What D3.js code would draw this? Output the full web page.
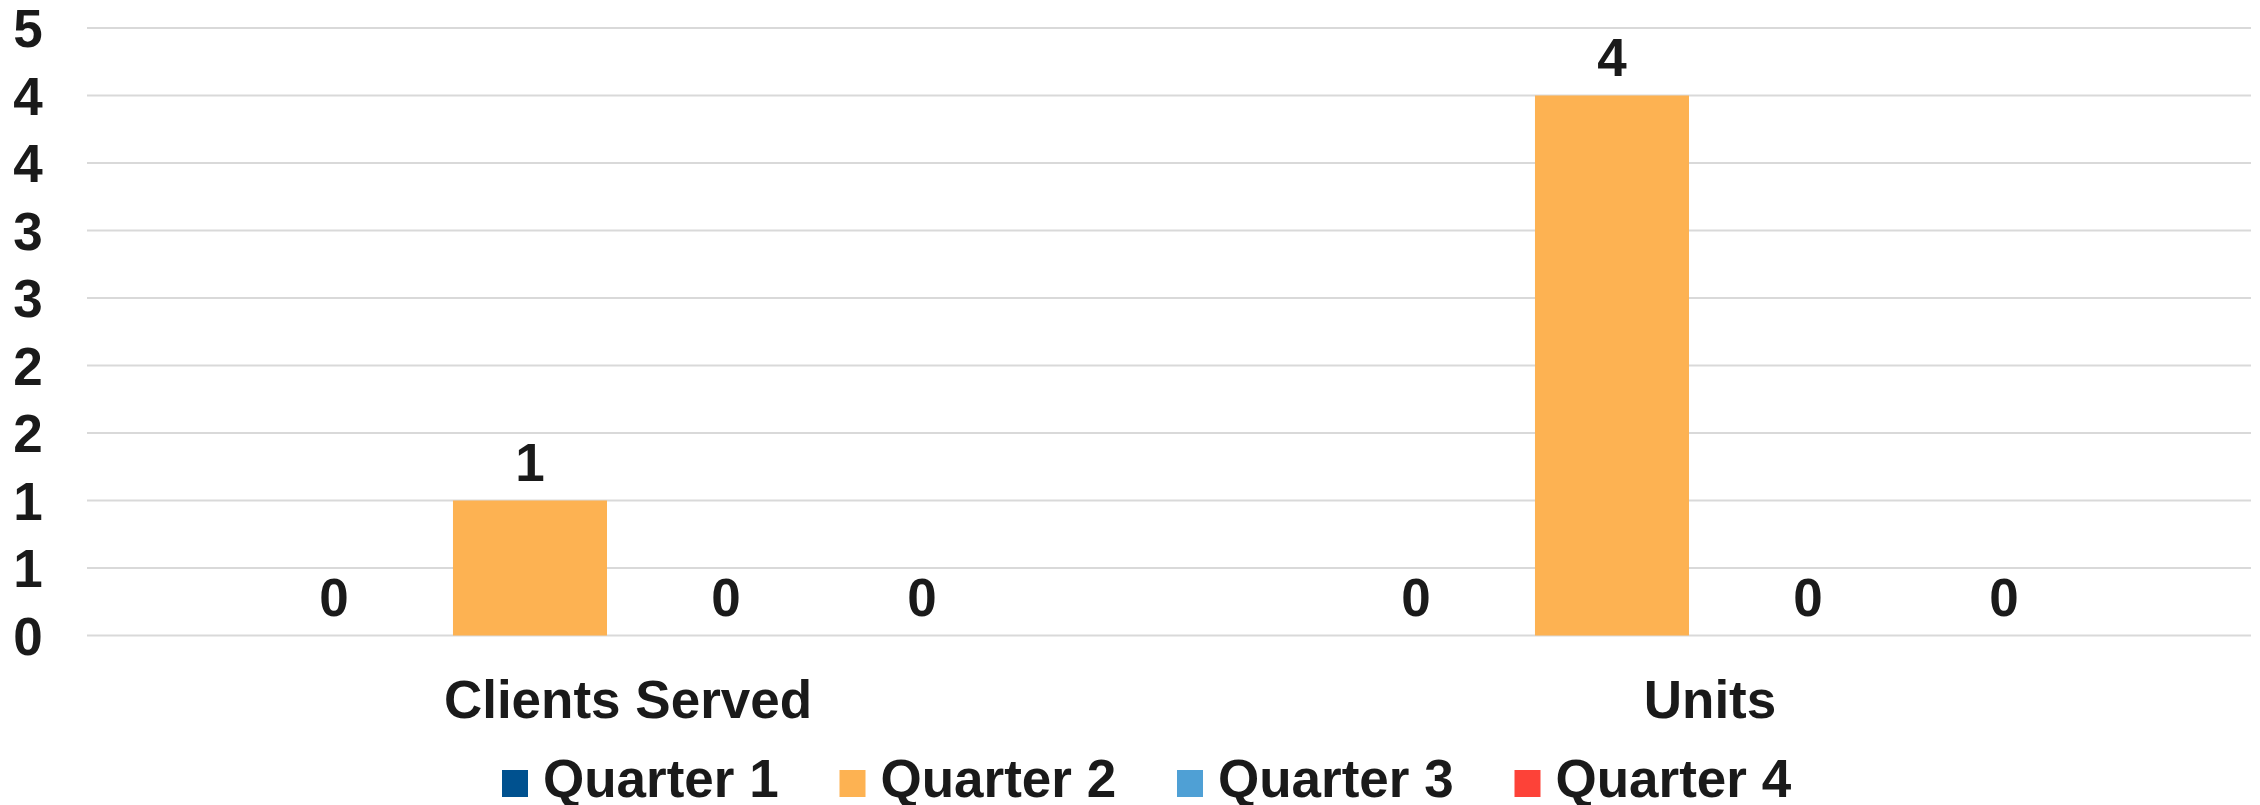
<!DOCTYPE html>
<html>
<head>
<meta charset="utf-8">
<script src="https://cdn.jsdelivr.net/npm/d3@7"></script>
<style>
body { margin: 0; background: #fff; }
text { font-family: "Liberation Sans", Arial, sans-serif; font-weight: bold; fill: #1a1a1a; }
</style>
</head>
<body>
<svg width="2260" height="805"></svg>
<script>
const categories = ["Clients Served", "Units"];
const quarters = ["Quarter 1", "Quarter 2", "Quarter 3", "Quarter 4"];
const q1 = [0, 0];
const q2 = [1, 4];
const q3 = [0, 0];
const q4 = [0, 0];
const colors = ["#00518f", "#fdb252", "#4fa0d5", "#fd4238"];
const yTicks = [0, 0.5, 1, 1.5, 2, 2.5, 3, 3.5, 4, 4.5];

const series = [q1, q2, q3, q4];
const plotLeft = 87, plotRight = 2251, plotTop = 28, plotBottom = 635.5;
const fs = 53;

const svg = d3.select("svg");

const x0 = d3.scaleBand().domain(categories).range([plotLeft, plotRight]).padding(0);
const x1 = d3.scaleBand().domain(quarters).range([0, x0.bandwidth()])
  .paddingInner(42 / 196).paddingOuter(0.867);
const y = d3.scaleLinear().domain([0, 4.5]).range([plotBottom, plotTop]);
const color = d3.scaleOrdinal().domain(quarters).range(colors);

// gridlines
svg.append("g").selectAll("line")
  .data(yTicks)
  .enter().append("line")
  .attr("x1", plotLeft).attr("x2", plotRight)
  .attr("y1", d => y(d)).attr("y2", d => y(d))
  .attr("stroke", "#d9d9d9")
  .attr("stroke-width", 2);

// y labels
svg.append("g").selectAll("text")
  .data(yTicks)
  .enter().append("text")
  .attr("x", 28)
  .attr("y", d => y(d))
  .attr("dy", "0.36em")
  .attr("text-anchor", "middle")
  .style("font-size", fs + "px")
  .text(d => Math.round(d));

const rows = [];
categories.forEach((c, i) => {
  quarters.forEach((q, j) => rows.push({ cat: c, q: q, v: series[j][i] }));
});

const bars = svg.append("g");
bars.selectAll("rect")
  .data(rows)
  .enter().append("rect")
  .attr("x", d => x0(d.cat) + x1(d.q))
  .attr("width", x1.bandwidth())
  .attr("y", d => y(d.v))
  .attr("height", d => y(0) - y(d.v))
  .attr("fill", d => color(d.q));

bars.selectAll("text")
  .data(rows)
  .enter().append("text")
  .attr("x", d => x0(d.cat) + x1(d.q) + x1.bandwidth() / 2)
  .attr("y", d => y(d.v) - 20)
  .attr("text-anchor", "middle")
  .style("font-size", fs + "px")
  .text(d => d.v);

// category labels
svg.append("g").selectAll("text")
  .data(categories)
  .enter().append("text")
  .attr("x", d => x0(d) + x0.bandwidth() / 2)
  .attr("y", 718)
  .attr("text-anchor", "middle")
  .style("font-size", fs + "px")
  .text(d => d);

// legend
const legend = svg.append("g").selectAll("g")
  .data(quarters)
  .enter().append("g")
  .attr("transform", (d, i) => "translate(" + (502 + i * 337.5) + ",0)");
legend.append("rect")
  .attr("x", 0).attr("y", 770)
  .attr("width", 26).attr("height", 27)
  .attr("fill", d => color(d));
legend.append("text")
  .attr("x", 41).attr("y", 797)
  .style("font-size", fs + "px")
  .text(d => d);
</script>
</body>
</html>
